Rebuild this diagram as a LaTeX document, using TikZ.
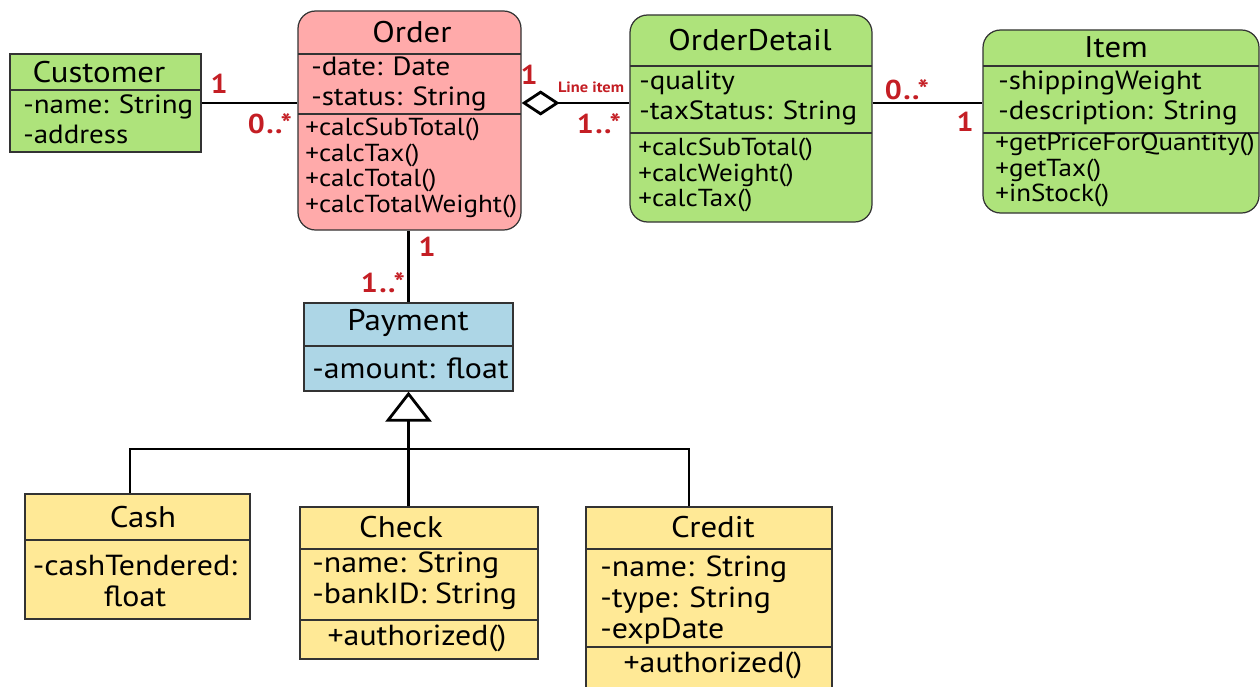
\documentclass[tikz,border=0pt]{standalone}
\usepackage{fontspec}
\setmainfont{PT Sans}[FakeStretch=1.1]
\usetikzlibrary{arrows.meta,positioning,fit}

\definecolor{custgreen}{HTML}{AEE37B}
\definecolor{orderpink}{HTML}{FFAAAA}
\definecolor{paymentblue}{HTML}{ADD6E6}
\definecolor{payyellow}{HTML}{FFE996}
\definecolor{multred}{HTML}{C41E24}

\begin{document}
\begin{tikzpicture}[
    x=0.02cm, y=-0.02cm,
    umlclass/.style={draw=black!80, line width=0.7pt, inner sep=0pt},
    divider/.style={draw=black!80, line width=0.7pt},
    title/.style={font=\fontsize{17}{19}\selectfont, inner sep=0pt},
    attrs/.style={font=\fontsize{15}{17}\selectfont, align=left, inner sep=0pt, anchor=west},
    bigattrs/.style={attrs, font=\fontsize{16.5}{17.5}\selectfont},
    ops/.style={font=\fontsize{14}{14.6}\selectfont, align=left, inner sep=0pt, anchor=west},
    assoc/.style={line width=1.6pt},
    mult/.style={font=\bfseries\fontsize{15.5}{15.5}\selectfont, text=multred, inner sep=0pt}
]
\useasboundingbox (0,0) rectangle (1260,686);

% Customer
\node[umlclass, fill=custgreen, fit={(10,54) (201,152)}] (customer) {};
\draw[divider] (10,90) -- (201,90);
\node[title] (customer-title) at (99,72) {Customer};
\node[attrs] (customer-attr) at (23,119) {-name: String\\-address};

% Order
\node[umlclass, fill=orderpink, rounded corners=10pt, fit={(298,11) (521,230)}] (order) {};
\draw[divider] (298,54) -- (521,54);
\draw[divider] (298,114) -- (521,114);
\node[title] (order-title) at (412,32) {Order};
\node[attrs] (order-attr) at (311,84) {-date: Date\\-status: String};
\node[ops] (order-ops) at (305,168) {+calcSubTotal()\\+calcTax()\\+calcTotal()\\+calcTotalWeight()};

% OrderDetail
\node[umlclass, fill=custgreen, rounded corners=10pt, fit={(630,15) (872,222)}] (orderdetail) {};
\draw[divider] (630,66) -- (872,66);
\draw[divider] (630,133) -- (872,133);
\node[title] (orderdetail-title) at (750,40) {OrderDetail};
\node[attrs] (orderdetail-attr) at (639,98) {-quality\\-taxStatus: String};
\node[ops] (orderdetail-ops) at (638,175) {+calcSubTotal()\\+calcWeight()\\+calcTax()};

% Item
\node[umlclass, fill=custgreen, rounded corners=10pt, fit={(983,30) (1259,213)}] (item) {};
\draw[divider] (983,66) -- (1259,66);
\draw[divider] (983,133) -- (1259,133);
\node[title] (item-title) at (1116,47) {Item};
\node[attrs] (item-attr) at (998,98) {-shippingWeight\\-description: String};
\node[ops] (item-ops) at (995,170) {+getPriceForQuantity()\\+getTax()\\+inStock()};

% Payment
\node[umlclass, fill=paymentblue, fit={(304,303) (513,391)}] (payment) {};
\draw[divider] (304,346) -- (513,346);
\node[title] (payment-title) at (408,323) {Payment};
\node[bigattrs] (payment-attr) at (312,368) {-amount: float};

% Cash
\node[umlclass, fill=payyellow, fit={(25,494) (250,619)}] (cash) {};
\draw[divider] (25,540) -- (250,540);
\node[title] (cash-title) at (143,517) {Cash};
\node[bigattrs, anchor=center, align=center] (cash-attr) at (135,581) {-cashTendered:\\float};

% Check
\node[umlclass, fill=payyellow, fit={(300,507) (538,659)}] (check) {};
\draw[divider] (300,549) -- (538,549);
\draw[divider] (300,620) -- (538,620);
\node[title] (check-title) at (401,527) {Check};
\node[bigattrs] (check-attr) at (312,581) {-name: String\\-bankID: String};
\node[bigattrs, anchor=center] (check-ops) at (417,638) {+authorized()};

% Credit
\node[umlclass, fill=payyellow, fit={(586,507) (832,720)}] (credit) {};
\draw[divider] (586,549) -- (832,549);
\draw[divider] (586,647) -- (832,647);
\node[title] (credit-title) at (713,527) {Credit};
\node[bigattrs] (credit-attr) at (600,600) {-name: String\\-type: String\\-expDate};
\node[bigattrs, anchor=center] (credit-ops) at (713,665) {+authorized()};

% Associations
\coordinate (assocrow) at (0,103);
\draw[assoc] (customer.east |- assocrow) -- (order.west |- assocrow);
\draw[assoc, {Diamond[open, length=0.76cm, width=0.5cm]}-] (order.east |- assocrow) -- (orderdetail.west |- assocrow);
\draw[assoc] (orderdetail.east |- assocrow) -- (item.west |- assocrow);
\draw[assoc] (order.south -| payment.north) -- (payment.north);

% Generalization
\coordinate (genjoin) at (payment.south |- 0,449);
\coordinate (cashjoin) at (130,449);
\coordinate (creditjoin) at (689,449);
\draw[assoc, {Triangle[open, length=0.6cm, width=0.92cm]}-] (payment.south) -- (genjoin);
\draw[assoc] (cash.north -| cashjoin) -- (cashjoin) -- (creditjoin) -- (credit.north -| creditjoin);
\draw[assoc] (genjoin) -- (genjoin |- check.north);

% Multiplicities
\node[mult] (m-cust) at (219,84) {1};
\node[mult] (m-order-cust) at (270,124) {0\kern0.8pt.\kern0.8pt.*};
\node[mult] (m-order-od) at (529,75) {1};
\node[font=\bfseries\fontsize{8.5}{9}\selectfont, text=multred, inner sep=0pt] (lineitem) at (591,87) {Line item};
\node[mult] (m-od-order) at (599,124) {1\kern0.8pt.\kern0.8pt.*};
\node[mult] (m-od-item) at (907,90) {0\kern0.8pt.\kern0.8pt.*};
\node[mult] (m-item) at (965,122) {1};
\node[mult] (m-order-pay) at (427,247) {1};
\node[mult] (m-pay) at (383,283) {1\kern0.8pt.\kern0.8pt.*};

\end{tikzpicture}
\end{document}
